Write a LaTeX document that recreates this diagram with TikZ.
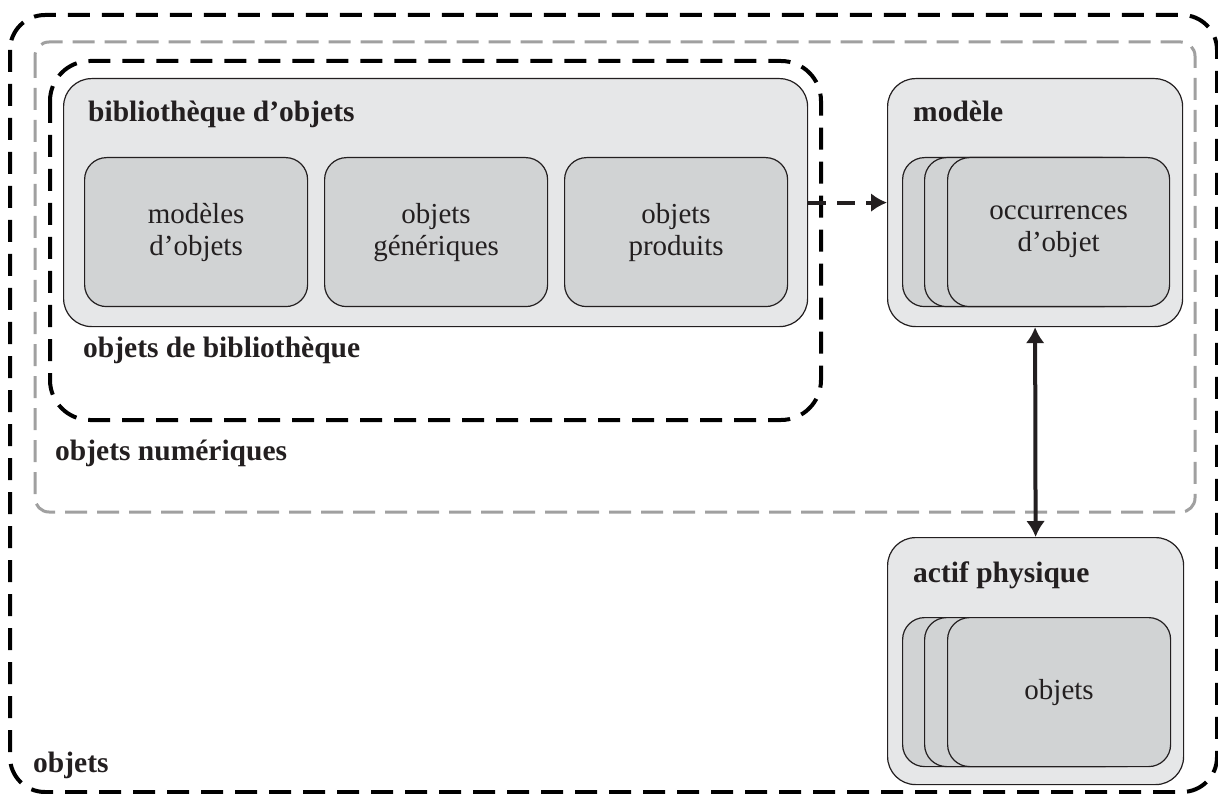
\documentclass[tikz,border=0pt]{standalone}
\usepackage{fontspec}
\setmainfont{Liberation Serif}
\usetikzlibrary{arrows.meta}
\definecolor{txtgray}{HTML}{231F20}
\definecolor{boxlight}{HTML}{E6E7E8}
\definecolor{boxdark}{HTML}{D1D3D4}
\definecolor{framegray}{HTML}{A0A0A0}

\begin{document}
\begin{tikzpicture}[x=1pt,y=-1pt]

		\tikzstyle{every node}=[font=\fontsize{29}{32}\selectfont, text=txtgray]
		\tikzstyle{outerbox}=[draw=txtgray, line width=1.2pt, fill=boxlight, rounded corners=28pt, inner sep=0pt, anchor=north west]
		\tikzstyle{innerbox}=[draw=txtgray, line width=1.2pt, fill=boxdark, rounded corners=22pt, inner sep=0pt, anchor=north west, minimum width=223pt, minimum height=149pt, align=center]
		\tikzstyle{title}=[font=\fontsize{29.5}{32}\selectfont\bfseries, anchor=base west, inner sep=0pt]
		\tikzstyle{frame}=[line width=4pt, dash pattern=on 22pt off 12pt]
		\tikzstyle{tip}=[>={Latex[length=16pt,width=19pt]}]

		\useasboundingbox (0,0) rectangle (1218,794);

		% frames
		\draw[frame, black, rounded corners=35pt] (10,15) rectangle (1217,792);
		\draw[frame, framegray, line width=3pt, dash pattern=on 22pt off 10pt, rounded corners=14pt] (35,42) rectangle (1195,512);
		\draw[frame, black, rounded corners=40pt] (50,61) rectangle (821,420);

		% library
		\node[outerbox, minimum width=744pt, minimum height=248pt] (lib) at (63,78) {};
		\node[title] (libtitle) at (88,122) {bibliothèque d’objets};
		\node[innerbox] (modobj) at (84,157) {modèles\\d’objets};
		\node[innerbox] (genobj) at (324,157) {objets\\génériques};
		\node[innerbox] (prodobj) at (564,157) {objets\\produits};

		\node[title] (libobj) at (83,357) {objets de bibliothèque};
		\node[title] (numobj) at (55,460) {objets numériques};
		\node[title] (allobj) at (33,772) {objets};

		% model
		\node[outerbox, minimum width=295pt, minimum height=248pt] (model) at (887,78) {};
		\node[title] (modeltitle) at (913,122) {modèle};
		\node[innerbox, minimum width=222pt] (occ1) at (902,157) {};
		\node[innerbox, minimum width=222pt] (occ2) at (924,157) {};
		\node[innerbox, minimum width=222pt] (occ3) at (947,157) {occurrences\\d’objet};

		% physical asset
		\node[outerbox, minimum width=296pt, minimum height=247pt] (asset) at (887,537) {};
		\node[title] (assettitle) at (913,582) {actif physique};
		\node[innerbox] (phys1) at (902,617) {};
		\node[innerbox] (phys2) at (924,617) {};
		\node[innerbox] (phys3) at (947,617) {objets};

		\draw[tip, ->, txtgray, line width=4pt, dash pattern=on 18pt off 11pt] (lib.east) -- (model.west);
		\draw[tip, <->, txtgray, line width=4pt] (model.south) -- (asset.north);

\end{tikzpicture}
\end{document}
